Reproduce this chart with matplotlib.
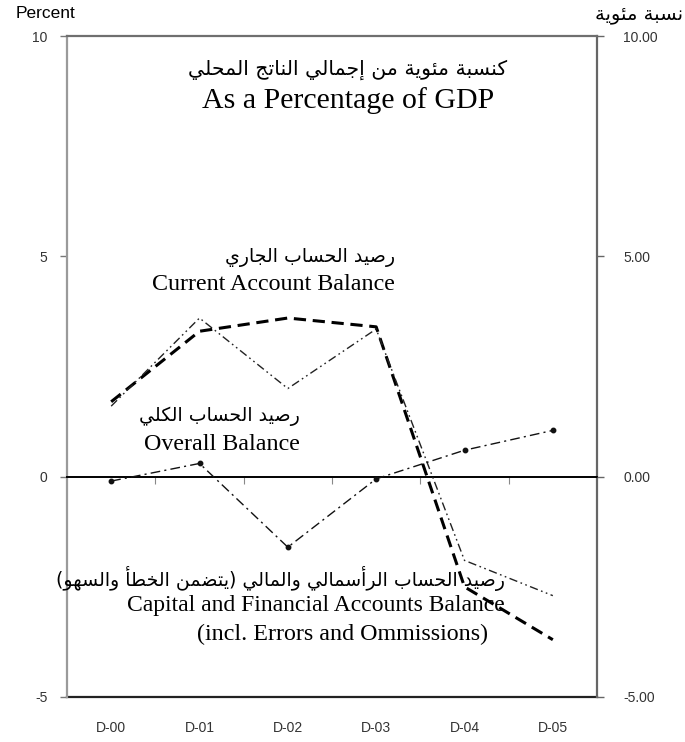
import unicodedata
import matplotlib
matplotlib.use("Agg")
import matplotlib.pyplot as plt

# ---------------- data ----------------
categories = ["D-00", "D-01", "D-02", "D-03", "D-04", "D-05"]
current_account = [1.7, 3.3, 3.6, 3.4, -2.5, -3.7]
overall_balance = [1.6, 3.6, 2.0, 3.35, -1.9, -2.7]
capital_financial = [-0.1, 0.3, -1.6, -0.05, 0.6, 1.05]
left_ticks = [10, 5, 0, -5]
left_tick_labels = ["10", "5", "0", "-5"]
right_tick_labels = ["10.00", "5.00", "0.00", "-5.00"]

title_ar = "كنسبة مئوية من إجمالي الناتج المحلي"
title_en = "As a Percentage of GDP"
ca_ar = "رصيد الحساب الجاري"
ca_en = "Current Account Balance"
ob_ar = "رصيد الحساب الكلي"
ob_en = "Overall Balance"
cf_ar = "رصيد الحساب الرأسمالي والمالي (يتضمن الخطأ والسهو)"
cf_en1 = "Capital and Financial Accounts Balance"
cf_en2 = "(incl. Errors and Ommissions)"
unit_en = "Percent"
unit_ar = "نسبة مئوية"


# ------------- simple Arabic shaping (presentation forms + RTL order) -------------
def _form(ch, kind):
    try:
        return unicodedata.lookup(unicodedata.name(ch) + " " + kind + " FORM")
    except (KeyError, ValueError):
        return None


def _dual(ch):
    return ch is not None and _form(ch, "INITIAL") is not None


def _joins(ch):
    return ch is not None and _form(ch, "FINAL") is not None


LAM = "\u0644"
LAM_ALEF = {"\u0627": "ARABIC LIGATURE LAM WITH ALEF",
            "\u0623": "ARABIC LIGATURE LAM WITH ALEF WITH HAMZA ABOVE",
            "\u0625": "ARABIC LIGATURE LAM WITH ALEF WITH HAMZA BELOW",
            "\u0622": "ARABIC LIGATURE LAM WITH ALEF WITH MADDA ABOVE"}


def shape_ar(text):
    chars = list(text)
    out = []
    i = 0
    n = len(chars)
    while i < n:
        ch = chars[i]
        prev = chars[i - 1] if i > 0 else None
        nxt = chars[i + 1] if i + 1 < n else None
        cp = _dual(prev) and _joins(ch)
        if ch == LAM and nxt in LAM_ALEF:
            kind = "FINAL" if cp else "ISOLATED"
            out.append(unicodedata.lookup(LAM_ALEF[nxt] + " " + kind + " FORM"))
            i += 2
            continue
        cn = _dual(ch) and _joins(nxt)
        kind = "MEDIAL" if (cp and cn) else "FINAL" if cp else "INITIAL" if cn else "ISOLATED"
        f = _form(ch, kind) or _form(ch, "ISOLATED") or ch
        out.append(f)
        i += 1
    vis = "".join(reversed(out))
    vis = vis.translate(str.maketrans({"(": ")", ")": "("}))
    return vis


AR_FONT = ["DejaVu Sans"]
SERIF = ["Liberation Serif", "DejaVu Serif"]
SANS = ["Liberation Sans", "DejaVu Sans"]

# ---------------- figure ----------------
W, H = 685, 742
fig = plt.figure(figsize=(W / 100, H / 100), dpi=100)
left_px, right_px, top_px, bot_px = 67, 597, 36, 697
ax = fig.add_axes([left_px / W, 1 - bot_px / H, (right_px - left_px) / W, (bot_px - top_px) / H])

x = list(range(len(categories)))
ax.plot(x, current_account, color="black", lw=2.2, dashes=[4, 2.2], zorder=3)
ax.plot(x, overall_balance, color="#222222", lw=1.0, dashes=[6, 2.5, 1.2, 2.5, 1.2, 2.5], zorder=3)
ax.plot(x, capital_financial, color="#111111", lw=1.0, dashes=[7, 3, 1.5, 3],
        marker="o", ms=3.2, zorder=3)

ax.set_xlim(-0.5, len(categories) - 0.5)
ax.set_ylim(-5, 10)

# spines
ax.spines["left"].set_color("#9a9a9a")
ax.spines["left"].set_linewidth(1.6)
ax.spines["top"].set_color("#6f6f6f")
ax.spines["top"].set_linewidth(1.6)
ax.spines["right"].set_color("#666666")
ax.spines["right"].set_linewidth(1.6)
ax.spines["bottom"].set_position(("data", 0))
ax.spines["bottom"].set_color("black")
ax.spines["bottom"].set_linewidth(1.4)

# zero-line ticks at category boundaries
ax.set_xticks([i + 0.5 for i in range(len(categories) - 1)])
ax.set_xticklabels([])
ax.tick_params(axis="x", direction="out", length=5, width=0.8, color="#888888")

# left y ticks
ax.set_yticks(left_ticks)
ax.set_yticklabels(left_tick_labels, fontfamily=SANS, fontsize=10, color="#333333")
ax.tick_params(axis="y", direction="out", length=5, width=1.0, color="#777777", pad=9)

# bottom frame line with category labels
sec = ax.secondary_xaxis(0.0)
sec.spines["bottom"].set_color("#222222")
sec.spines["bottom"].set_linewidth(1.6)
sec.set_xticks(x)
sec.set_xticklabels(categories, fontfamily=SANS, fontsize=10, color="#333333")
sec.tick_params(axis="x", length=0, pad=17)

# right y axis
axr = ax.twinx()
axr.set_ylim(ax.get_ylim())
axr.set_yticks(left_ticks)
axr.set_yticklabels(right_tick_labels, fontfamily=SANS, fontsize=10, color="#333333")
axr.tick_params(axis="y", direction="out", length=5, width=1.0, color="#666666", pad=14)
for s in axr.spines.values():
    s.set_visible(False)

# text annotations
ax.text(2.68, 9.23, shape_ar(title_ar), ha="center", va="center", fontsize=14.7, family=AR_FONT)
ax.text(2.68, 8.53, title_en, ha="center", va="center", fontsize=21.5, family=SERIF)

ax.text(3.21, 4.98, shape_ar(ca_ar), ha="right", va="center", fontsize=13.6, family=AR_FONT)
ax.text(3.21, 4.35, ca_en, ha="right", va="center", fontsize=17.3, family=SERIF)

ax.text(2.14, 1.38, shape_ar(ob_ar), ha="right", va="center", fontsize=13.6, family=AR_FONT)
ax.text(2.14, 0.72, ob_en, ha="right", va="center", fontsize=17.3, family=SERIF)

ax.text(4.46, -2.30, shape_ar(cf_ar), ha="right", va="center", fontsize=13.6, family=AR_FONT)
ax.text(4.46, -2.93, cf_en1, ha="right", va="center", fontsize=17.0, family=SERIF)
ax.text(4.27, -3.59, cf_en2, ha="right", va="center", fontsize=17.3, family=SERIF)

fig.text(16 / W, 1 - 14 / H, unit_en, ha="left", va="center", fontsize=12.5, family=SANS)
fig.text(683 / W, 1 - 14 / H, shape_ar(unit_ar), ha="right", va="center", fontsize=14, family=AR_FONT)

fig.savefig("out.png", dpi=100)
